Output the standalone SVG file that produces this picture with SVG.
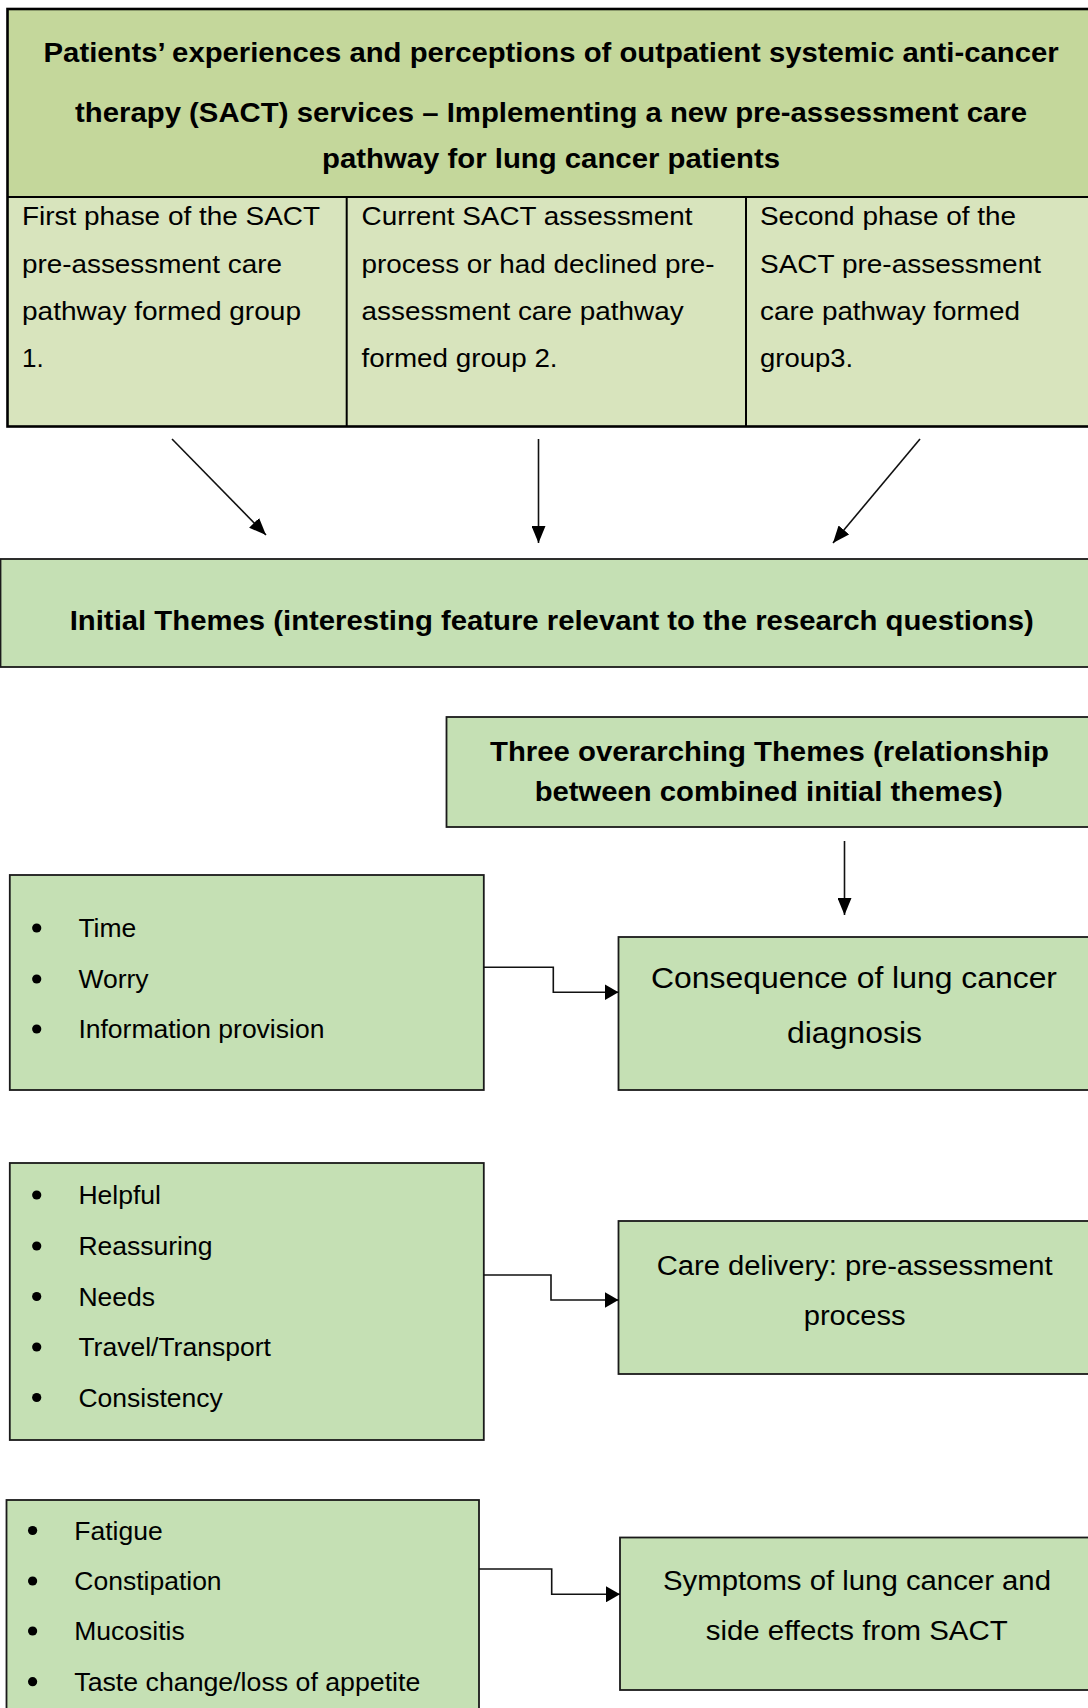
<svg xmlns="http://www.w3.org/2000/svg" width="1088" height="1708" viewBox="0 0 1088 1708">
<style>
.box{fill:#c5e0b4;stroke:#1a1a1a;stroke-width:1.8}
.t{font-family:"Liberation Sans",Arial,sans-serif;fill:#000}
.b{font-weight:bold;font-size:27px}
.r{font-size:26px}
.li{font-family:"Liberation Sans",Arial,sans-serif;font-size:26.5px;fill:#000}
.big{font-size:29px}
.con{fill:none;stroke:#111;stroke-width:1.6}
</style>
<defs>
<marker id="ah" markerUnits="userSpaceOnUse" markerWidth="18" markerHeight="14" refX="17" refY="7" orient="auto">
<path d="M0,0 L17,7 L0,14 z" fill="#000"/>
</marker>
<marker id="ah2" markerUnits="userSpaceOnUse" markerWidth="15" markerHeight="16" refX="14" refY="8" orient="auto">
<path d="M0,0 L14,8 L0,16 z" fill="#000"/>
</marker>
</defs>

<g id="header">
<rect x="7.5" y="9" width="1100" height="188" fill="#c4d79b"/>
<rect x="7.5" y="197" width="1100" height="229.5" fill="#d8e4bd"/>
<rect x="7.5" y="9" width="1100" height="417.5" fill="none" stroke="#000" stroke-width="2.6"/>
<line x1="7.5" y1="197" x2="1100" y2="197" stroke="#000" stroke-width="2"/>
<line x1="346.7" y1="197" x2="346.7" y2="426.5" stroke="#000" stroke-width="2"/>
<line x1="746" y1="197" x2="746" y2="426.5" stroke="#000" stroke-width="2"/>
<text class="t b" x="43.6" y="62" textLength="1015" lengthAdjust="spacingAndGlyphs">Patients’ experiences and perceptions of outpatient systemic anti-cancer</text>
<text class="t b" x="75" y="122" textLength="952" lengthAdjust="spacingAndGlyphs">therapy (SACT) services – Implementing a new pre-assessment care</text>
<text class="t b" x="322" y="168" textLength="458" lengthAdjust="spacingAndGlyphs">pathway for lung cancer patients</text>
</g>

<g id="group1">
<text class="t r" x="22" y="225" textLength="298" lengthAdjust="spacingAndGlyphs">First phase of the SACT</text>
<text class="t r" x="22" y="272.5" textLength="260" lengthAdjust="spacingAndGlyphs">pre-assessment care</text>
<text class="t r" x="22" y="320" textLength="279" lengthAdjust="spacingAndGlyphs">pathway formed group</text>
<text class="t r" x="22" y="367">1.</text>
</g>
<g id="group2">
<text class="t r" x="361.6" y="225" textLength="331" lengthAdjust="spacingAndGlyphs">Current SACT assessment</text>
<text class="t r" x="361.6" y="272.5" textLength="353" lengthAdjust="spacingAndGlyphs">process or had declined pre-</text>
<text class="t r" x="361.6" y="320" textLength="322" lengthAdjust="spacingAndGlyphs">assessment care pathway</text>
<text class="t r" x="361.6" y="367" textLength="196" lengthAdjust="spacingAndGlyphs">formed group 2.</text>
</g>
<g id="group3">
<text class="t r" x="760" y="225" textLength="256" lengthAdjust="spacingAndGlyphs">Second phase of the</text>
<text class="t r" x="760" y="272.5" textLength="281" lengthAdjust="spacingAndGlyphs">SACT pre-assessment</text>
<text class="t r" x="760" y="320" textLength="260" lengthAdjust="spacingAndGlyphs">care pathway formed</text>
<text class="t r" x="760" y="367" textLength="93" lengthAdjust="spacingAndGlyphs">group3.</text>
</g>

<g id="initial-themes">
<rect class="box" x="0.5" y="559" width="1100" height="108"/>
<text class="t b" x="69.7" y="630" textLength="964" lengthAdjust="spacingAndGlyphs">Initial Themes (interesting feature relevant to the research questions)</text>
</g>

<g id="overarching">
<rect class="box" x="446.5" y="717" width="660" height="110"/>
<text class="t b" x="490" y="761" textLength="559" lengthAdjust="spacingAndGlyphs">Three overarching Themes (relationship</text>
<text class="t b" x="534.7" y="801" textLength="468" lengthAdjust="spacingAndGlyphs">between combined initial themes)</text>
</g>

<g id="list1">
<rect class="box" x="9.8" y="875" width="474" height="215"/>
<circle cx="36.7" cy="928" r="4.6"/>
<circle cx="36.7" cy="979" r="4.6"/>
<circle cx="36.7" cy="1029" r="4.6"/>
<text class="li" x="78.4" y="937">Time</text>
<text class="li" x="78.4" y="988">Worry</text>
<text class="li" x="78.4" y="1038">Information provision</text>
</g>

<g id="consequence">
<rect class="box" x="618.5" y="937" width="480" height="153"/>
<text class="t big" x="651" y="988" textLength="406" lengthAdjust="spacingAndGlyphs">Consequence of lung cancer</text>
<text class="t big" x="787" y="1043" textLength="135" lengthAdjust="spacingAndGlyphs">diagnosis</text>
</g>

<g id="list2">
<rect class="box" x="9.8" y="1163" width="474" height="277"/>
<circle cx="36.7" cy="1195" r="4.6"/>
<circle cx="36.7" cy="1246" r="4.6"/>
<circle cx="36.7" cy="1296.5" r="4.6"/>
<circle cx="36.7" cy="1347" r="4.6"/>
<circle cx="36.7" cy="1397.5" r="4.6"/>
<text class="li" x="78.4" y="1204">Helpful</text>
<text class="li" x="78.4" y="1255">Reassuring</text>
<text class="li" x="78.4" y="1305.5">Needs</text>
<text class="li" x="78.4" y="1356">Travel/Transport</text>
<text class="li" x="78.4" y="1406.5">Consistency</text>
</g>

<g id="care-delivery">
<rect class="box" x="618.5" y="1221" width="480" height="153"/>
<text class="t r" style="font-size:27px" x="656.7" y="1275" textLength="396" lengthAdjust="spacingAndGlyphs">Care delivery: pre-assessment</text>
<text class="t r" style="font-size:27px" x="803.7" y="1325" textLength="102" lengthAdjust="spacingAndGlyphs">process</text>
</g>

<g id="list3">
<rect class="box" x="6.5" y="1500" width="472.5" height="240"/>
<circle cx="32.6" cy="1530.5" r="4.6"/>
<circle cx="32.6" cy="1581" r="4.6"/>
<circle cx="32.6" cy="1631" r="4.6"/>
<circle cx="32.6" cy="1681.7" r="4.6"/>
<text class="li" x="74.3" y="1539.5">Fatigue</text>
<text class="li" x="74.3" y="1590">Constipation</text>
<text class="li" x="74.3" y="1640">Mucositis</text>
<text class="li" x="74.3" y="1690.7" textLength="346" lengthAdjust="spacingAndGlyphs">Taste change/loss of appetite</text>
</g>

<g id="symptoms">
<rect class="box" x="620" y="1537.5" width="480" height="152.5"/>
<text class="t r" style="font-size:27px" x="663" y="1590" textLength="388" lengthAdjust="spacingAndGlyphs">Symptoms of lung cancer and</text>
<text class="t r" style="font-size:27px" x="705.7" y="1640" textLength="302" lengthAdjust="spacingAndGlyphs">side effects from SACT</text>
</g>

<g id="connectors">
<path class="con" d="M172,439 L266,535" marker-end="url(#ah)"/>
<path class="con" d="M538.5,439 V543" marker-end="url(#ah)"/>
<path class="con" d="M920,439 L833,543" marker-end="url(#ah)"/>
<path class="con" d="M844.5,841 V915" marker-end="url(#ah)"/>
<path class="con" stroke-width="2" d="M483.7,967.3 H553.3 V992.3 H618.5" marker-end="url(#ah2)"/>
<path class="con" stroke-width="2" d="M483.7,1275 H551 V1300 H618.5" marker-end="url(#ah2)"/>
<path class="con" stroke-width="2" d="M479,1569 H551.7 V1594.3 H620" marker-end="url(#ah2)"/>
</g>
</svg>
